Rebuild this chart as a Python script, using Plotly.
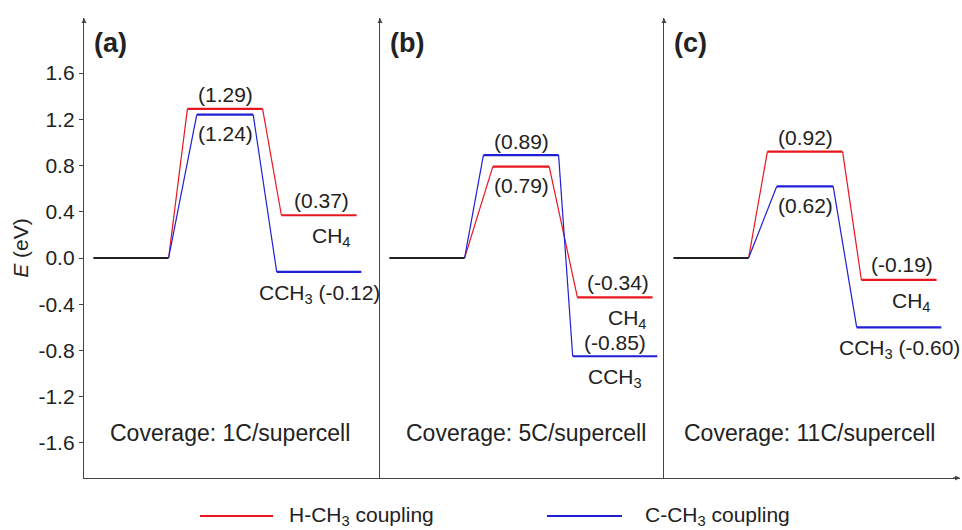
import plotly.graph_objects as go

# energies in eV, one entry per panel (a), (b), (c)
panel_tags = ["(a)", "(b)", "(c)"]
coverage = ["Coverage: 1C/supercell", "Coverage: 5C/supercell", "Coverage: 11C/supercell"]
initial_e = [0.0, 0.0, 0.0]
h_ts = [1.29, 0.79, 0.92]      # H-CH3 coupling transition state
h_fs = [0.37, -0.34, -0.19]    # CH4 final state
c_ts = [1.24, 0.89, 0.62]      # C-CH3 coupling transition state
c_fs = [-0.12, -0.85, -0.60]   # CCH3 final state
y_ticks = [-1.6, -1.2, -0.8, -0.4, 0.0, 0.4, 0.8, 1.2, 1.6]

RED = "#e8161f"
BLUE = "#1f1fd6"
BLACK = "#222222"
AXIS = "#444444"
FONT = "Liberation Sans, Arial, sans-serif"

# panel geometry (pixel widths of the three panels)
widths = [296, 284, 296]
unit = 94.0
x0 = -0.5
total = sum(widths)
edges = [0]
for w in widths:
    edges.append(edges[-1] + w)
yrange = [-1.903, 2.076]

fig = go.Figure()
annotations = []
layout_axes = {}


def fmt(v):
    return "(%.2f)" % v


for k in range(3):
    xs = "" if k == 0 else str(k + 1)
    xa, ya = "x" + xs, "y" + xs
    for ts, fs, col, other_ts, fhw in [(h_ts[k], h_fs[k], RED, c_ts[k], 0.40),
                                       (c_ts[k], c_fs[k], BLUE, h_ts[k], 0.45)]:
        hw = 0.40 if ts > other_ts else 0.30
        # connectors
        fig.add_trace(go.Scatter(x=[0.4, 1 - hw, None, 1 + hw, 2 - fhw],
                                 y=[initial_e[k], ts, None, ts, fs], mode="lines",
                                 line=dict(color=col, width=1.2), xaxis=xa, yaxis=ya,
                                 showlegend=False, hoverinfo="skip"))
        # levels
        fig.add_trace(go.Scatter(x=[1 - hw, 1 + hw, None, 2 - fhw, 2 + fhw],
                                 y=[ts, ts, None, fs, fs], mode="lines",
                                 line=dict(color=col, width=2.2), xaxis=xa, yaxis=ya,
                                 showlegend=False, hoverinfo="skip"))
    # initial state
    fig.add_trace(go.Scatter(x=[-0.4, 0.4], y=[initial_e[k]] * 2, mode="lines",
                             line=dict(color=BLACK, width=2), xaxis=xa, yaxis=ya,
                             showlegend=False, hoverinfo="skip"))

    rng = [x0, x0 + widths[k] / unit]
    layout_axes["xaxis" + xs] = dict(domain=[edges[k] / total, edges[k + 1] / total], range=rng,
                                     anchor=ya, showline=True, linecolor=AXIS, linewidth=1.4,
                                     showgrid=False, zeroline=False, showticklabels=False,
                                     ticks="", fixedrange=True)
    ydict = dict(domain=[0, 1], range=yrange, anchor=xa, showline=True, linecolor=AXIS,
                 linewidth=1.4, showgrid=False, zeroline=False, fixedrange=True)
    if k == 0:
        ydict.update(tickvals=y_ticks, ticktext=["%.1f" % t for t in y_ticks],
                     ticks="outside", ticklen=4, tickcolor=AXIS,
                     tickfont=dict(size=21, color=BLACK, family=FONT),
                     title=dict(text="<i>E</i> (eV)", font=dict(size=21, color=BLACK, family=FONT),
                                standoff=4))
    else:
        ydict.update(showticklabels=False, ticks="")
    layout_axes["yaxis" + xs] = ydict

    def ann(x, y, text, yshift, xanchor="center", size=21):
        annotations.append(dict(x=x, y=y, xref=xa, yref=ya, text=text, showarrow=False,
                                xanchor=xanchor, yanchor="middle", yshift=yshift,
                                font=dict(size=size, color=BLACK, family=FONT)))

    # transition state labels: higher above, lower below
    hi, lo = max(h_ts[k], c_ts[k]), min(h_ts[k], c_ts[k])
    ann(1, hi, fmt(hi), 14)
    ann(1, lo, fmt(lo), -19)
    # CH4 final state
    ann(2.03, h_fs[k], fmt(h_fs[k]), 15)
    ann(2.36, h_fs[k], "CH<sub>4</sub>", -22, xanchor="right")
    # CCH3 final state
    if k == 1:
        ann(2.0, c_fs[k], fmt(c_fs[k]), 14)
        ann(2.0, c_fs[k], "CCH<sub>3</sub>", -22)
    else:
        ann(2.0, c_fs[k], "CCH<sub>3</sub> " + fmt(c_fs[k]), -22)
    ann(1.05, -1.51, coverage[k], 0, size=23)
    annotations.append(dict(x=-0.42, y=1.86, xref=xa, yref=ya, text="<b>%s</b>" % panel_tags[k],
                            showarrow=False, xanchor="left", yanchor="middle",
                            font=dict(size=27, color=BLACK, family=FONT)))
    # arrow head on top of each vertical axis
    annotations.append(dict(x=0, y=1, xref=xa + " domain", yref="paper", ax=0, ay=10,
                            showarrow=True, arrowhead=2, arrowsize=0.7, arrowwidth=1.4,
                            arrowcolor=AXIS, text=" "))

# arrow head at the right end of the energy baseline axis
annotations.append(dict(x=1, y=0, xref="paper", yref="paper", ax=-10, ay=0,
                        showarrow=True, arrowhead=2, arrowsize=0.7, arrowwidth=1.4,
                        arrowcolor=AXIS, text=" "))

# legend (drawn by hand for the long line samples)
shapes = []
leg_items = [("H-CH<sub>3</sub> coupling", RED, 200, 273, 287),
             ("C-CH<sub>3</sub> coupling", BLUE, 547, 622, 643)]
L, PW, PH = 84, total, 460
ly = (478 - 516) / PH
for text, col, xa0, xa1, xt in leg_items:
    shapes.append(dict(type="line", xref="paper", yref="paper", x0=(xa0 - L) / PW, x1=(xa1 - L) / PW,
                       y0=ly, y1=ly, line=dict(color=col, width=1.8)))
    annotations.append(dict(x=(xt - L) / PW, y=ly, xref="paper", yref="paper", text=text,
                            showarrow=False, xanchor="left", yanchor="middle",
                            font=dict(size=21, color=BLACK, family=FONT)))

fig.update_layout(width=962, height=530, margin=dict(l=84, r=962 - 84 - total, t=18, b=52),
                  plot_bgcolor="white", paper_bgcolor="white", font=dict(family=FONT, color=BLACK),
                  annotations=annotations, shapes=shapes, showlegend=False, **layout_axes)

fig.write_html("out.html", config={"displayModeBar": False},
               post_script="document.body.style.margin='0';")
